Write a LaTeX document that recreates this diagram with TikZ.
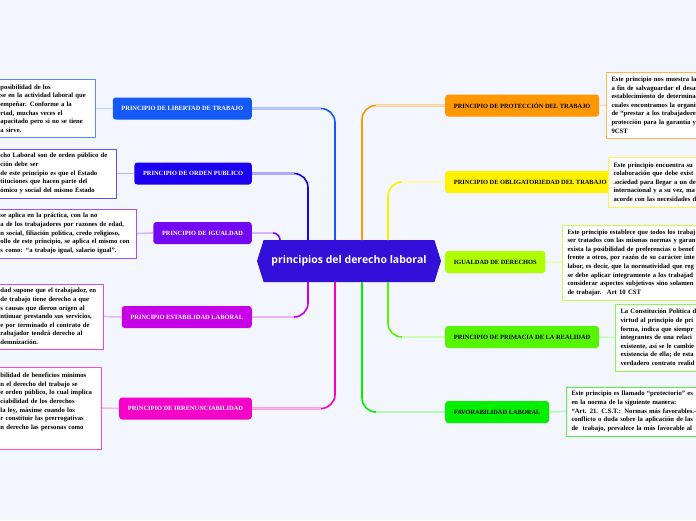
\documentclass[tikz,border=0pt]{standalone}
\usepackage{fontspec}
\setmainfont{Liberation Serif}
\newfontfamily\hubfont{Open Sans}
\usetikzlibrary{shapes.symbols,calc}

\definecolor{paper}{HTML}{F3F6FD}
\definecolor{cHub}{HTML}{3210DA}
\definecolor{cLib}{HTML}{1458F5}
\definecolor{cOrd}{HTML}{1C00F0}
\definecolor{cIgu}{HTML}{7508F2}
\definecolor{cEst}{HTML}{C800E8}
\definecolor{cIrr}{HTML}{F500C8}
\definecolor{cPro}{HTML}{FF9800}
\definecolor{cObl}{HTML}{FFF200}
\definecolor{cIgd}{HTML}{AEFF00}
\definecolor{cPri}{HTML}{55F500}
\definecolor{cFav}{HTML}{00F000}

\tikzset{
  branch/.style={fill=#1, rounded corners=3pt, minimum height=22pt, inner xsep=8.7pt, inner ysep=0pt,
    font=\fontsize{6.4}{7}\selectfont\bfseries},
  note/.style={draw=#1!70, fill=white, line width=1pt, align=left, inner xsep=4pt, inner ysep=3pt,
    font=\fontsize{6.65}{8.6}\selectfont\bfseries},
  wire/.style={draw=#1, line width=1.6pt, rounded corners=14pt},
  fade/.style={draw=#1!30, line width=1.6pt},
}

\begin{document}
\begin{tikzpicture}[x=1pt,y=-1pt,line join=round]
  \fill[paper] (0,0) rectangle (696,520);
  \useasboundingbox (0,0) rectangle (696,520);

  % centre
  \node[signal, signal to=east and west, signal pointer angle=145, fill=cHub, text=white,
    minimum width=184pt, minimum height=42pt, inner sep=0pt,
    font=\hubfont\fontsize{10.5}{12}\selectfont\bfseries] (hub) at (349,261) {principios del derecho laboral};

  % branches, left
  \node[branch=cLib, text=white, anchor=east] (lib) at (252,108.5) {PRINCIPIO DE LIBERTAD DE TRABAJO};
  \node[branch=cOrd, text=white, anchor=east] (ord) at (252,173.5) {PRINCIPIO DE ORDEN PUBLICO};
  \node[branch=cIgu, text=white, anchor=east] (igu) at (252,233) {PRINCIPIO DE IGUALDAD};
  \node[branch=cEst, text=white, anchor=east] (est) at (252,317) {PRINCIPIO ESTABILIDAD LABORAL};
  \node[branch=cIrr, text=white, anchor=east] (irr) at (252,408.5) {PRINCIPIO DE IRRENUNCIABILIDAD};

  % branches, right
  \node[branch=cPro, anchor=west] (pro) at (445,105.5) {PRINCIPIO DE PROTECCIÓN DEL TRABAJO};
  \node[branch=cObl, anchor=west] (obl) at (445,182) {PRINCIPIO DE OBLIGATORIEDAD DEL TRABAJO};
  \node[branch=cIgd, anchor=west] (igd) at (445,262) {IGUALDAD DE DERECHOS};
  \node[branch=cPri, anchor=west] (pri) at (445,337) {PRINCIPIO DE PRIMACIA DE LA REALIDAD};
  \node[branch=cFav, anchor=west] (fav) at (445,412) {FAVORABILIDAD LABORAL};

  % notes, left
  \node[note=cLib, text width=91pt, minimum height=58pt, anchor=east] (nLib) at (96,108.5)
    {posibilidad de los\\se en la actividad laboral que\\empeñar. Conforme a la\\rtad, muchas veces el\\apacitado pero si no se tiene\\a sirve.};
  \node[note=cOrd, text width=112pt, minimum height=49pt, anchor=east] (nOrd) at (117,173.5)
    {cho Laboral son de orden público de\\ción debe ser\\de este principio es que el Estado\\tituciones que hacen parte del\\ómico y social del mismo Estado};
  \node[note=cIgu, text width=132pt, minimum height=49pt, anchor=east] (nIgu) at (137,233.5)
    {se aplica en la práctica, con la no\\a de los trabajadores por razones de edad,\\n social, filiación política, credo religioso,\\ollo de este principio, se aplica el mismo con\\s como: “a trabajo igual, salario igual”.};
  \node[note=cEst, text width=99pt, minimum height=65pt, anchor=east] (nEst) at (104,316.5)
    {dad supone que el trabajador, en\\de trabajo tiene derecho a que\\s causas que dieron origen al\\ntinuar prestando sus servicios,\\e por terminado el contrato de\\rabajador tendrá derecho al\\demnización.};
  \node[note=cIrr, text width=97pt, minimum height=82pt, anchor=east] (nIrr) at (102,408)
    {bilidad de beneficios mínimos\\n el derecho del trabajo se\\e orden público, lo cual implica\\ciabilidad de los derechos\\la ley, máxime cuando los\\r constituir las prerrogativas\\n derecho las personas como\par\vspace{5pt}\null};

  % notes, right
  \node[note=cPro, text width=200pt, inner xsep=5pt, minimum height=66pt, anchor=west] (nPro) at (606,105)
    {Este principio nos muestra la g\\a fin de salvaguardar el desarr\\establecimiento de determinad\\cuales encontramos la organiz\\de “prestar a los trabajadores\\protección para la garantía y e\\9CST};
  \node[note=cObl, text width=200pt, inner xsep=5pt, minimum height=50pt, anchor=west] (nObl) at (608,182)
    {Este principio encuentra su\\colaboración que debe exist\\sociedad para llegar a un de\\internacional y a su vez, ma\\acorde con las necesidades d};
  \node[note=cIgd, text width=200pt, inner xsep=5pt, minimum height=75pt, anchor=west] (nIgd) at (562,262.5)
    {Este principio establece que todos los trabaj\\ser tratados con las mismas normas y garan\\exista la posibilidad de preferencias o benef\\frente a otros, por razón de su carácter inte\\labor, es decir, que la normatividad que reg\\se debe aplicar íntegramente a los trabajad\\considerar aspectos subjetivos sino solamen\\de trabajar.~ Art 10 CST};
  \node[note=cPri, text width=200pt, inner xsep=5pt, minimum height=67pt, anchor=west] (nPri) at (615,337.5)
    {La Constitución Política d\\virtud al principio de pri\\forma, indica que siempr\\integrantes de una relaci\\existente, así se le cambie\\existencia de ella; de esta\\verdadero contrato realid};
  \node[note=cFav, text width=200pt, inner xsep=5pt, minimum height=49pt, anchor=west] (nFav) at (566,411.5)
    {Este principio es llamado “protectorio” es\\en la norma de la siguiente manera:\\“Art. 21. C.S.T.: Normas más favorables.-\\conflicto o duda sobre la aplicación de las\\de~ trabajo, prevalece la más favorable al};

  % ends on the centre
  \coordinate (tLib) at (335,240);
  \coordinate (tOrd) at (308,240);
  \coordinate (tIgu) at (280,240);
  \coordinate (bEst) at (308,282);
  \coordinate (bIrr) at (335,282);
  \coordinate (tPro) at (362,240);
  \coordinate (tObl) at (388,240);
  \coordinate (bPri) at (388,282);
  \coordinate (bFav) at (362,282);

  % connectors, left
  \draw[wire=cLib] (lib.east) -| (tLib);
  \draw[fade=cLib] (lib.east) -- ($(tLib |- lib.east)+(-14,0)$);
  \draw[wire=cOrd] (ord.east) -| (tOrd);
  \draw[fade=cOrd] (ord.east) -- ($(tOrd |- ord.east)+(-14,0)$);
  \draw[wire=cIgu, rounded corners=7pt] (igu.east) -| (tIgu);
  \draw[fade=cIgu] (igu.east) -- ($(tIgu |- igu.east)+(-7,0)$);
  \draw[wire=cEst] (est.east) -| (bEst);
  \draw[fade=cEst] (est.east) -- ($(bEst |- est.east)+(-14,0)$);
  \draw[wire=cIrr] (irr.east) -| (bIrr);
  \draw[fade=cIrr] (irr.east) -- ($(bIrr |- irr.east)+(-14,0)$);

  % connectors, right
  \draw[wire=cPro] (pro.west) -| (tPro);
  \draw[fade=cPro] (pro.west) -- ($(tPro |- pro.west)+(14,0)$);
  \draw[wire=cObl] (obl.west) -| (tObl);
  \draw[fade=cObl] (obl.west) -- ($(tObl |- obl.west)+(14,0)$);
  \draw[fade=cIgd] (hub.east) -- (igd.west);
  \draw[wire=cPri] (pri.west) -| (bPri);
  \draw[fade=cPri] (pri.west) -- ($(bPri |- pri.west)+(14,0)$);
  \draw[wire=cFav] (fav.west) -| (bFav);
  \draw[fade=cFav] (fav.west) -- ($(bFav |- fav.west)+(14,0)$);

  % branch to note
  \draw[fade=cLib] (lib.west) -- (nLib.east);
  \draw[fade=cOrd] (ord.west) -- (nOrd.east);
  \draw[fade=cIgu] (igu.west) -- (nIgu.east);
  \draw[fade=cEst] (est.west) -- (nEst.east);
  \draw[fade=cIrr] (irr.west) -- (nIrr.east);
  \draw[fade=cPro] (pro.east) -- (nPro.west);
  \draw[fade=cObl] (obl.east) -- (nObl.west);
  \draw[fade=cIgd] (igd.east) -- (nIgd.west);
  \draw[fade=cPri] (pri.east) -- (nPri.west);
  \draw[fade=cFav] (fav.east) -- (nFav.west);
\end{tikzpicture}
\end{document}
